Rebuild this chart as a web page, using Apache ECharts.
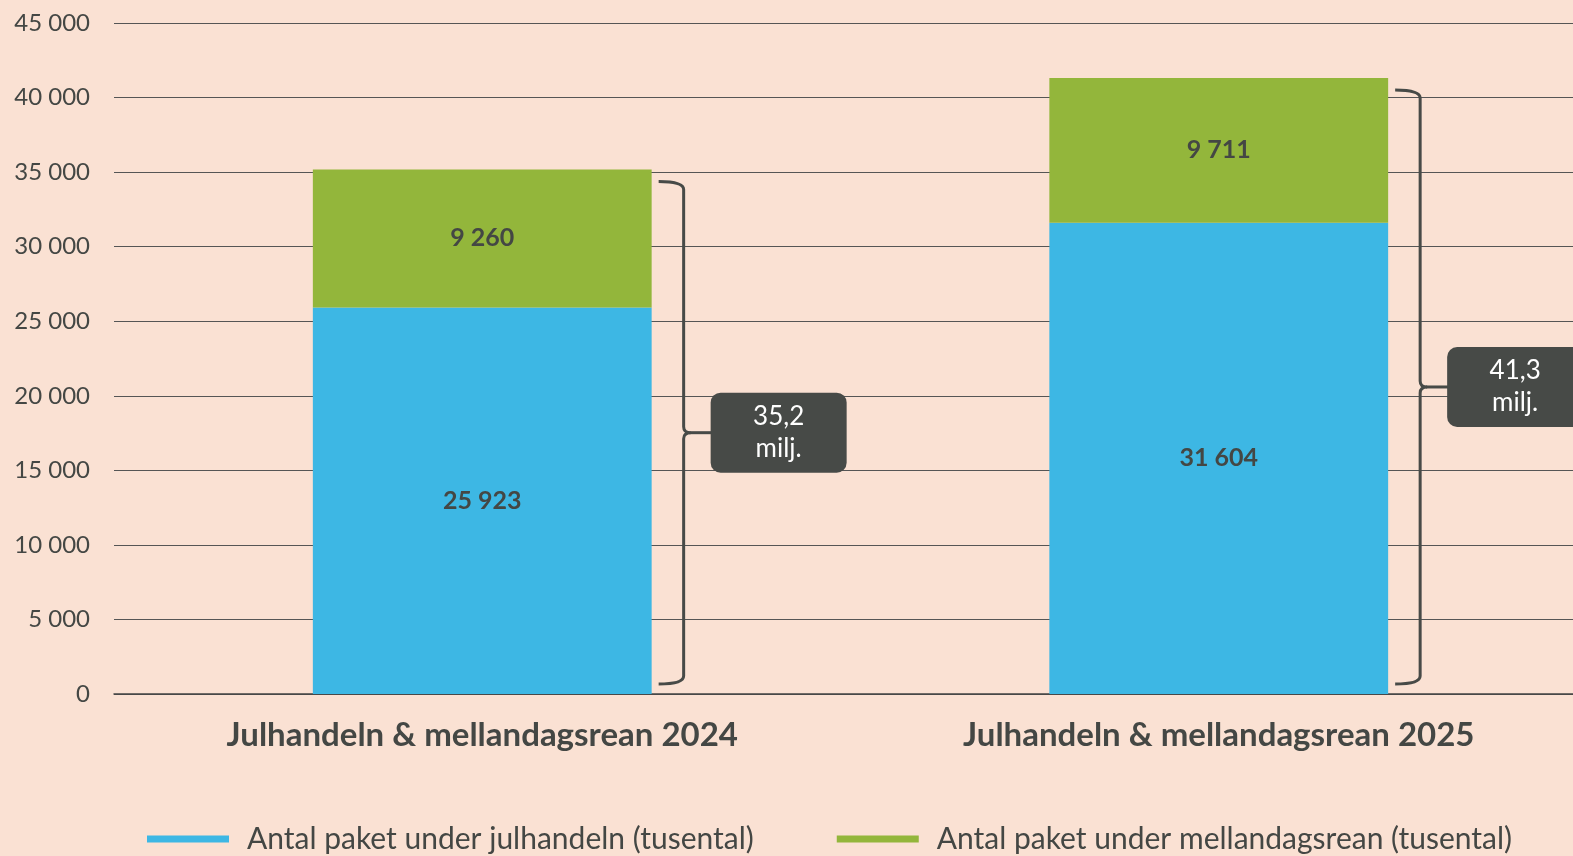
<!DOCTYPE html>
<html>
<head>
<meta charset="utf-8">
<script src="https://cdn.jsdelivr.net/npm/echarts@6/dist/echarts.min.js"></script>
<style>
  html, body { margin: 0; padding: 0; background: #fae1d3; }
  #chart { width: 1573px; height: 856px; }
</style>
</head>
<body>
<div id="chart"></div>
<script>
const categories = ['Julhandeln & mellandagsrean 2024', 'Julhandeln & mellandagsrean 2025']
const julhandeln = [25923, 31604]
const mellandagsrean = [9260, 9711]
const seriesNames = ['Antal paket under julhandeln (tusental)', 'Antal paket under mellandagsrean (tusental)']
const yTicks = [0, 5000, 10000, 15000, 20000, 25000, 30000, 35000, 40000, 45000]

const totals = julhandeln.map((v, i) => v + mellandagsrean[i])
const fmt = (v) => String(v).replace(/\B(?=(\d{3})+(?!\d))/g, ' ')
const milj = (v) => (v / 1000).toFixed(1).replace('.', ',') + '\nmilj.'

const FONT = 'Lato, "Open Sans", sans-serif'
const DARK = '#474a47'
const TEXT = '#444744'
const BAR_W = 0.46

const chart = echarts.init(document.getElementById('chart'))

// curly bracket + dark label box to the right of each stacked bar
function renderBracket(params, api) {
  const idx = api.value(0)
  const total = api.value(1)
  const top = api.coord([idx, total])
  const bottom = api.coord([idx, 0])
  const band = api.size([1, 0])[0]
  const x = top[0] + band * BAR_W / 2 + 32
  const y1 = top[1] + 12
  const y2 = bottom[1] - 10
  const mid = (y1 + y2) / 2
  const path =
    `M${x - 25},${y1} Q${x},${y1} ${x},${y1 + 8} L${x},${mid - 6} Q${x},${mid} ${x + 7},${mid} ` +
    `Q${x},${mid} ${x},${mid + 6} L${x},${y2 - 8} Q${x},${y2} ${x - 25},${y2}`
  return {
    type: 'group',
    children: [
      {
        type: 'path',
        shape: { pathData: path },
        style: { stroke: DARK, lineWidth: 3, fill: null }
      },
      {
        type: 'line',
        shape: { x1: x + 6, y1: mid, x2: x + 28, y2: mid },
        style: { stroke: DARK, lineWidth: 3 }
      },
      {
        type: 'rect',
        shape: { x: x + 27, y: mid - 40, width: 136, height: 80, r: 10 },
        style: { fill: DARK },
        textContent: {
          style: {
            text: milj(total),
            fill: '#ffffff',
            fontSize: 26,
            lineHeight: 32,
            fontFamily: FONT,
            align: 'center'
          }
        },
        textConfig: { position: 'inside' }
      }
    ]
  }
}

const barLabel = {
  show: true,
  position: 'inside',
  color: TEXT,
  fontWeight: 'bold',
  fontSize: 25,
  fontFamily: FONT,
  formatter: (p) => fmt(p.value)
}

chart.setOption({
  backgroundColor: '#fae1d3',
  textStyle: { fontFamily: FONT },
  animation: false,
  grid: { left: 114, width: 1473, top: 23, bottom: 162, containLabel: false, outerBoundsMode: 'none' },
  legend: {
    data: seriesNames,
    left: 147,
    top: 824,
    padding: 0,
    icon: 'rect',
    itemWidth: 82,
    itemHeight: 7,
    itemGap: 83,
    textStyle: { fontSize: 30, color: TEXT, fontFamily: FONT, padding: [0, 0, 0, 13] }
  },
  xAxis: {
    type: 'category',
    data: categories,
    axisTick: { show: false },
    axisLine: { lineStyle: { color: '#444', width: 1.5 } },
    axisLabel: { fontSize: 33, fontWeight: 'bold', color: TEXT, margin: 25, fontFamily: FONT }
  },
  yAxis: {
    type: 'value',
    min: yTicks[0],
    max: yTicks[yTicks.length - 1],
    interval: yTicks[1] - yTicks[0],
    axisLine: { show: false },
    axisTick: { show: false },
    splitLine: { lineStyle: { color: '#555', width: 1 } },
    axisLabel: { fontSize: 24, color: TEXT, margin: 24, fontFamily: FONT, formatter: (v) => fmt(v) }
  },
  series: [
    {
      name: seriesNames[0],
      type: 'bar',
      stack: 'total',
      data: julhandeln,
      barWidth: (BAR_W * 100) + '%',
      itemStyle: { color: '#3db7e4' },
      label: barLabel
    },
    {
      name: seriesNames[1],
      type: 'bar',
      stack: 'total',
      data: mellandagsrean,
      barWidth: (BAR_W * 100) + '%',
      itemStyle: { color: '#93b63b' },
      label: barLabel
    },
    {
      type: 'custom',
      renderItem: renderBracket,
      data: totals.map((t, i) => [i, t]),
      encode: { x: 0, y: 1 },
      z: 5,
      silent: true
    }
  ]
})
</script>
</body>
</html>
